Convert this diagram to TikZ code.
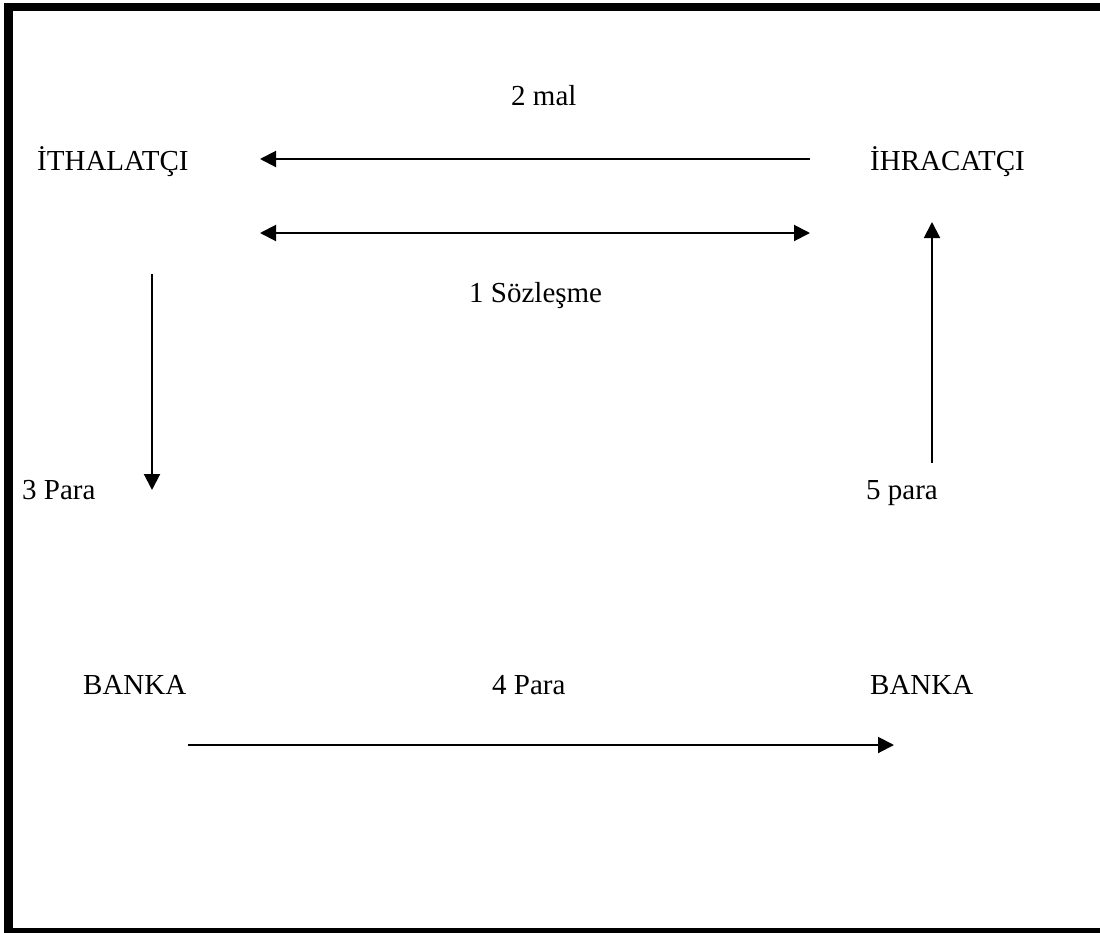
\documentclass[tikz,border=0pt]{standalone}
\usepackage{fontspec}
\setmainfont{Liberation Serif}
\usetikzlibrary{arrows.meta}
\begin{document}
\begin{tikzpicture}[x=1bp,y=-1bp,
  lbl/.style={anchor=base west,inner sep=0pt,font=\fontsize{29bp}{34bp}\selectfont},
  conn/.style={line width=2bp,-{Triangle[length=16bp,width=16bp]}},
  dconn/.style={line width=2bp,{Triangle[length=16bp,width=16bp]}-{Triangle[length=16bp,width=16bp]}}]
\useasboundingbox (0,0) rectangle (1100,933);
% frame
\fill (4,3) rectangle (13,933);
\fill (4,3) rectangle (1100,11);
\fill (4,928) rectangle (1100,933);
% labels
\node[lbl] (ith) at (37,170) {İTHALATÇI};
\node[lbl] (ihr) at (870,170) {İHRACATÇI};
\node[lbl] (mal) at (511,105) {2 mal};
\node[lbl] (soz) at (469,302) {1 Sözleşme};
\node[lbl] (p3) at (22,499) {3 Para};
\node[lbl] (p5) at (866,499) {5 para};
\node[lbl] (b1) at (83,694) {BANKA};
\node[lbl] (b2) at (870,694) {BANKA};
\node[lbl] (p4) at (492,694) {4 Para};
% connector ends
\coordinate (malR) at (810,159);
\coordinate (malL) at (260,159);
\coordinate (sozL) at (260,233);
\coordinate (sozR) at (810,233);
\coordinate (lT) at (152,274);
\coordinate (lB) at (152,490);
\coordinate (rB) at (932,463);
\coordinate (rT) at (932,222);
\coordinate (bL) at (188,745);
\coordinate (bR) at (894,745);
% connectors
\draw[conn] (malR) -- (malL);
\draw[dconn] (sozL) -- (sozR);
\draw[conn] (lT) -- (lB);
\draw[conn] (rB) -- (rT);
\draw[conn] (bL) -- (bR);
\end{tikzpicture}
\end{document}
